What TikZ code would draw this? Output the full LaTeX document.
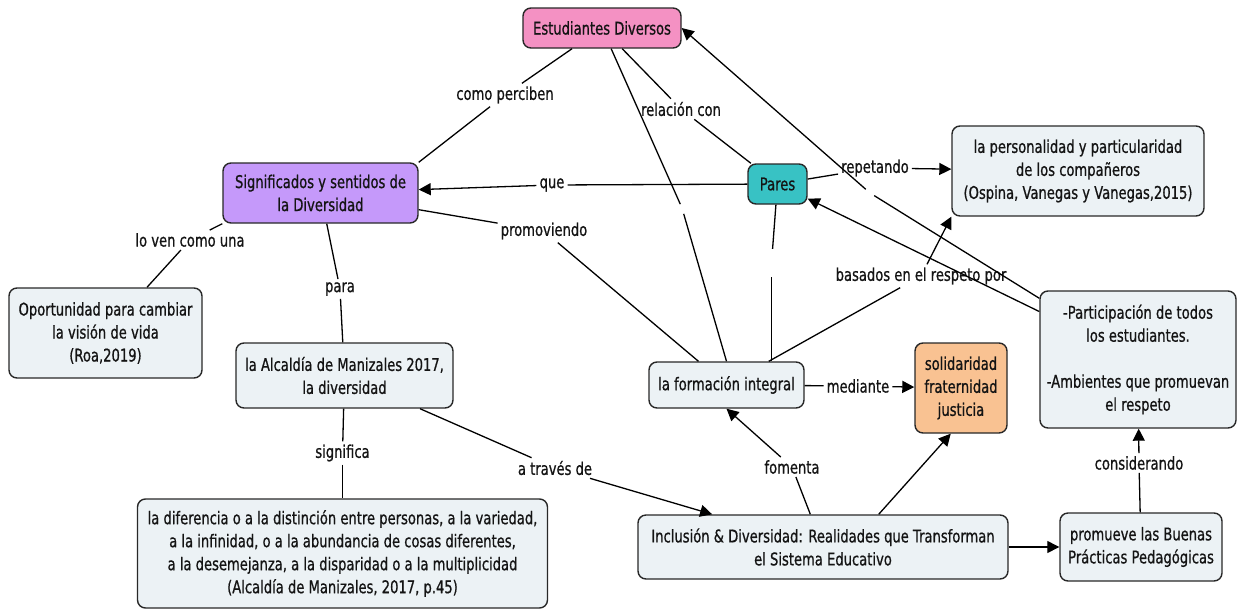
\documentclass[tikz,border=0pt]{standalone}
\usepackage{fontspec}
\setmainfont{DejaVu Sans}[FakeStretch=0.75,FakeBold=0.8]
\usetikzlibrary{arrows.meta,calc}
\definecolor{cpink}{RGB}{244,145,195}
\definecolor{cpurple}{RGB}{197,153,250}
\definecolor{cteal}{RGB}{56,194,196}
\definecolor{corange}{RGB}{249,194,146}
\definecolor{clight}{RGB}{236,242,245}
\definecolor{cborder}{RGB}{40,40,40}
\definecolor{ctext}{RGB}{20,20,20}
\begin{document}
\begin{tikzpicture}[x=1pt,y=-1pt,
  concept/.style={draw=cborder, line width=1.4pt, rounded corners=8pt, align=center,
    inner sep=0pt, font=\fontsize{17.5}{23}\selectfont, text=ctext},
  lbl/.style={inner sep=3pt, font=\fontsize{17.5}{23}\selectfont, text=ctext},
  gapnode/.style={inner sep=0pt, minimum width=3pt},
  link/.style={line width=1.3pt, draw=black},
  arr/.style={link, -{Triangle[length=12pt,width=12pt]}}]
\useasboundingbox (0,0) rectangle (1240,611);
% concepts
\node[concept, fill=cpink, minimum width=158pt, minimum height=40pt] (ED) at (602,28) {Estudiantes Diversos};
\node[concept, fill=cpurple, minimum width=195pt, minimum height=60pt] (SIG) at (320.5,193) {Significados y sentidos de\\la Diversidad};
\node[concept, fill=cteal, minimum width=59pt, minimum height=40pt] (PAR) at (777.5,184) {Pares};
\node[concept, fill=clight, minimum width=252pt, minimum height=90pt] (PER) at (1078,171) {la personalidad y particularidad\\de los compañeros\\(Ospina, Vanegas y Vanegas,2015)};
\node[concept, fill=clight, minimum width=193pt, minimum height=90pt] (OPO) at (105.5,333) {Oportunidad para cambiar\\la visión de vida\\(Roa,2019)};
\node[concept, fill=clight, minimum width=217pt, minimum height=65pt] (ALC) at (344.5,375.5) {la Alcaldía de Manizales 2017,\\la diversidad};
\node[concept, fill=clight, minimum width=410pt, minimum height=109pt] (DIF) at (342.5,553.5) {la diferencia o a la distinción entre personas, a la variedad,\\a la infinidad, o a la abundancia de cosas diferentes,\\a la desemejanza, a la disparidad o a la multiplicidad\\(Alcaldía de Manizales, 2017, p.45)};
\node[concept, fill=clight, minimum width=155pt, minimum height=46pt] (FOR) at (726.5,385) {la formación integral};
\node[concept, fill=corange, minimum width=92pt, minimum height=90pt] (SOL) at (961,388) {solidaridad\\fraternidad\\justicia};
\node[concept, fill=clight, minimum width=196pt, minimum height=137pt] (PART) at (1138,359.5) {-Participación de todos\\los estudiantes.\\[23pt]-Ambientes que promuevan\\el respeto};
\node[concept, fill=clight, minimum width=370pt, minimum height=64pt] (INC) at (823,547) {Inclusión \& Diversidad: Realidades que Transforman\\el Sistema Educativo};
\node[concept, fill=clight, minimum width=162pt, minimum height=68pt] (BUE) at (1141,547) {promueve las Buenas\\Prácticas Pedagógicas};
% link labels
\node[lbl] (lcp) at (505,95) {como perciben};
\node[lbl] (lrc) at (681,109) {relación con};
\node[lbl] (lque) at (552,185) {que};
\node[lbl] (lrep) at (875,168) {repetando};
\node[lbl] (lpro) at (544,231) {promoviendo};
\node[lbl] (lven) at (190,240) {lo ven como una};
\node[lbl] (lpara) at (340,289) {para};
\node[lbl] (lbas) at (921,276) {basados en el respeto por};
\node[lbl] (lmed) at (858,386) {mediante};
\node[lbl] (lsig) at (342.5,453) {significa};
\node[lbl] (latr) at (555,468) {a través de};
\node[lbl] (lfom) at (792,467) {fomenta};
\node[lbl] (lcon) at (1139,463) {considerando};
% blank link labels (gaps)
\node[gapnode, minimum height=12pt] (g1) at (682,208) {};
\node[gapnode, minimum height=28pt] (g2) at (771.5,263) {};
\node[gapnode, minimum height=8pt, minimum width=8pt] (g3) at (870,193) {};
% connectors
\draw[link] (ED) -- (lcp);
\draw[link] (lcp) -- (SIG.north east);
\draw[link] (ED) -- (lrc);
\draw[link] (lrc) -- (PAR);
\draw[link] (ED) -- (g1);
\draw[link] (g1) -- (FOR.north);
\draw[link] (PAR) -- (lque);
\draw[arr] (lque) -- (SIG);
\draw[link] (PAR) -- (lrep);
\draw[arr] (lrep) -- (PER);
\draw[link] (PAR) -- (g2);
\draw[link] (g2) -- (g2 |- FOR.north);
\draw[link] (SIG) -- (lpro);
\draw[link] (lpro) -- (FOR);
\draw[link] (SIG.south west) -- (lven);
\draw[link] (lven) -- (OPO);
\draw[link] (SIG) -- (lpara);
\draw[link] (lpara) -- (ALC);
\draw[link] (ALC) -- (lsig);
\draw[link] (lsig) -- (DIF);
\draw[link] (ALC) -- (latr);
\draw[arr] (latr) -- (INC);
\draw[link] (FOR) -- (lbas);
\draw[arr] (lbas) -- (PER.south west);
\draw[link] (FOR) -- (lmed);
\draw[arr] (lmed) -- (SOL);
\draw[link] (INC) -- (lfom);
\draw[arr] (lfom) -- (FOR.south);
\draw[arr] ($(INC.north west)!0.65!(INC.north east)$) -- ($(SOL.south west)!0.39!(SOL.south east)$);
\draw[arr] (INC) -- (BUE);
\draw[link] (BUE) -- (lcon);
\draw[arr] (lcon) -- (PART);
\draw[arr] (PART) -- (PAR);
\draw[link] (PART) -- (g3);
\draw[arr] (g3) -- (ED.east);
\end{tikzpicture}
\end{document}
